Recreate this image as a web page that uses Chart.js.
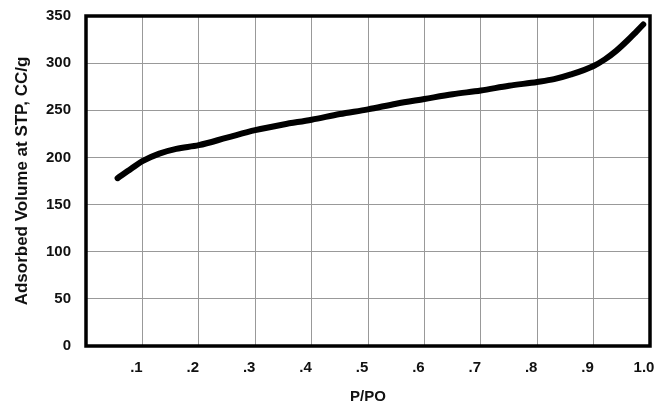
<!DOCTYPE html>
<html>
<head>
<meta charset="utf-8">
<title>Isotherm</title>
<script src="https://cdn.jsdelivr.net/npm/chart.js@4.4.0/dist/chart.umd.min.js"></script>
<style>
  html, body { margin: 0; padding: 0; background: #fff; }
  #wrap { width: 668px; height: 410px; }
</style>
</head>
<body>
<div id="wrap"><canvas id="isoterma"></canvas></div>
<script>
// relative pressure P/PO and adsorbed volume (cc/g at STP)
var pressao = [0.056, 0.08, 0.10, 0.13, 0.16, 0.20, 0.25, 0.30, 0.35, 0.40, 0.45, 0.50, 0.55,
               0.60, 0.65, 0.70, 0.75, 0.80, 0.83, 0.86, 0.90, 0.92, 0.94, 0.96, 0.975, 0.988];
var volume  = [178, 188, 196, 204, 209, 213, 221, 229, 235, 240, 246, 251, 257,
               262, 267, 271, 276, 280, 283, 288, 297, 304, 313, 324, 333, 341];
var ticksX  = ['', '.1', '.2', '.3', '.4', '.5', '.6', '.7', '.8', '.9', '1.0'];

var pontos = pressao.map(function (p, i) { return { x: p, y: volume[i] }; });

// thick frame round the whole plot area
var moldura = {
  id: 'moldura',
  beforeDatasetsDraw: function (chart) {
    var a = chart.chartArea;
    var ctx = chart.ctx;
    ctx.save();
    ctx.strokeStyle = '#000';
    ctx.lineWidth = 3.5;
    ctx.strokeRect(a.left, a.top, a.right - a.left, a.bottom - a.top);
    ctx.restore();
  }
};

var fonte = { family: 'Liberation Sans, Arial, sans-serif', size: 15, weight: 'bold' };
var fonteTitulo = { family: 'Liberation Sans, Arial, sans-serif', size: 17, weight: 'bold' };

var ctx = document.getElementById('isoterma');
var chart = new Chart(ctx, {
  type: 'line',
  data: {
    datasets: [{
      data: pontos,
      borderColor: '#000',
      borderWidth: 6,
      borderCapStyle: 'round',
      pointRadius: 0,
      cubicInterpolationMode: 'monotone',
      fill: false
    }]
  },
  options: {
    responsive: true,
    maintainAspectRatio: false,
    animation: false,
    layout: { padding: { top: 16, right: 18, left: 0, bottom: 0 } },
    plugins: { legend: { display: false }, tooltip: { enabled: false } },
    scales: {
      x: {
        type: 'linear',
        min: 0,
        max: 1,
        afterFit: function (s) { s.height = 64; s.paddingLeft = 0; s.paddingRight = 4; },
        grid: { color: '#999', lineWidth: 1, drawTicks: false },
        border: { display: false },
        ticks: {
          stepSize: 0.1,
          padding: 13,
          labelOffset: -6,
          color: '#111',
          font: fonte,
          callback: function (v) { return ticksX[Math.round(v * 10)]; }
        },
        title: { display: true, text: 'P/PO', color: '#111', font: fonte, padding: { top: 4 } }
      },
      y: {
        min: 0,
        max: 350,
        afterFit: function (s) { s.width = 86; s.paddingTop = 4; s.paddingBottom = 4; },
        grid: { color: '#999', lineWidth: 1, drawTicks: false },
        border: { display: false },
        ticks: { stepSize: 50, padding: 15, color: '#111', font: fonte },
        title: { display: true, text: 'Adsorbed Volume at STP, CC/g', color: '#111', font: fonteTitulo, padding: { top: 12 } }
      }
    }
  },
  plugins: [moldura]
});
</script>
</body>
</html>
